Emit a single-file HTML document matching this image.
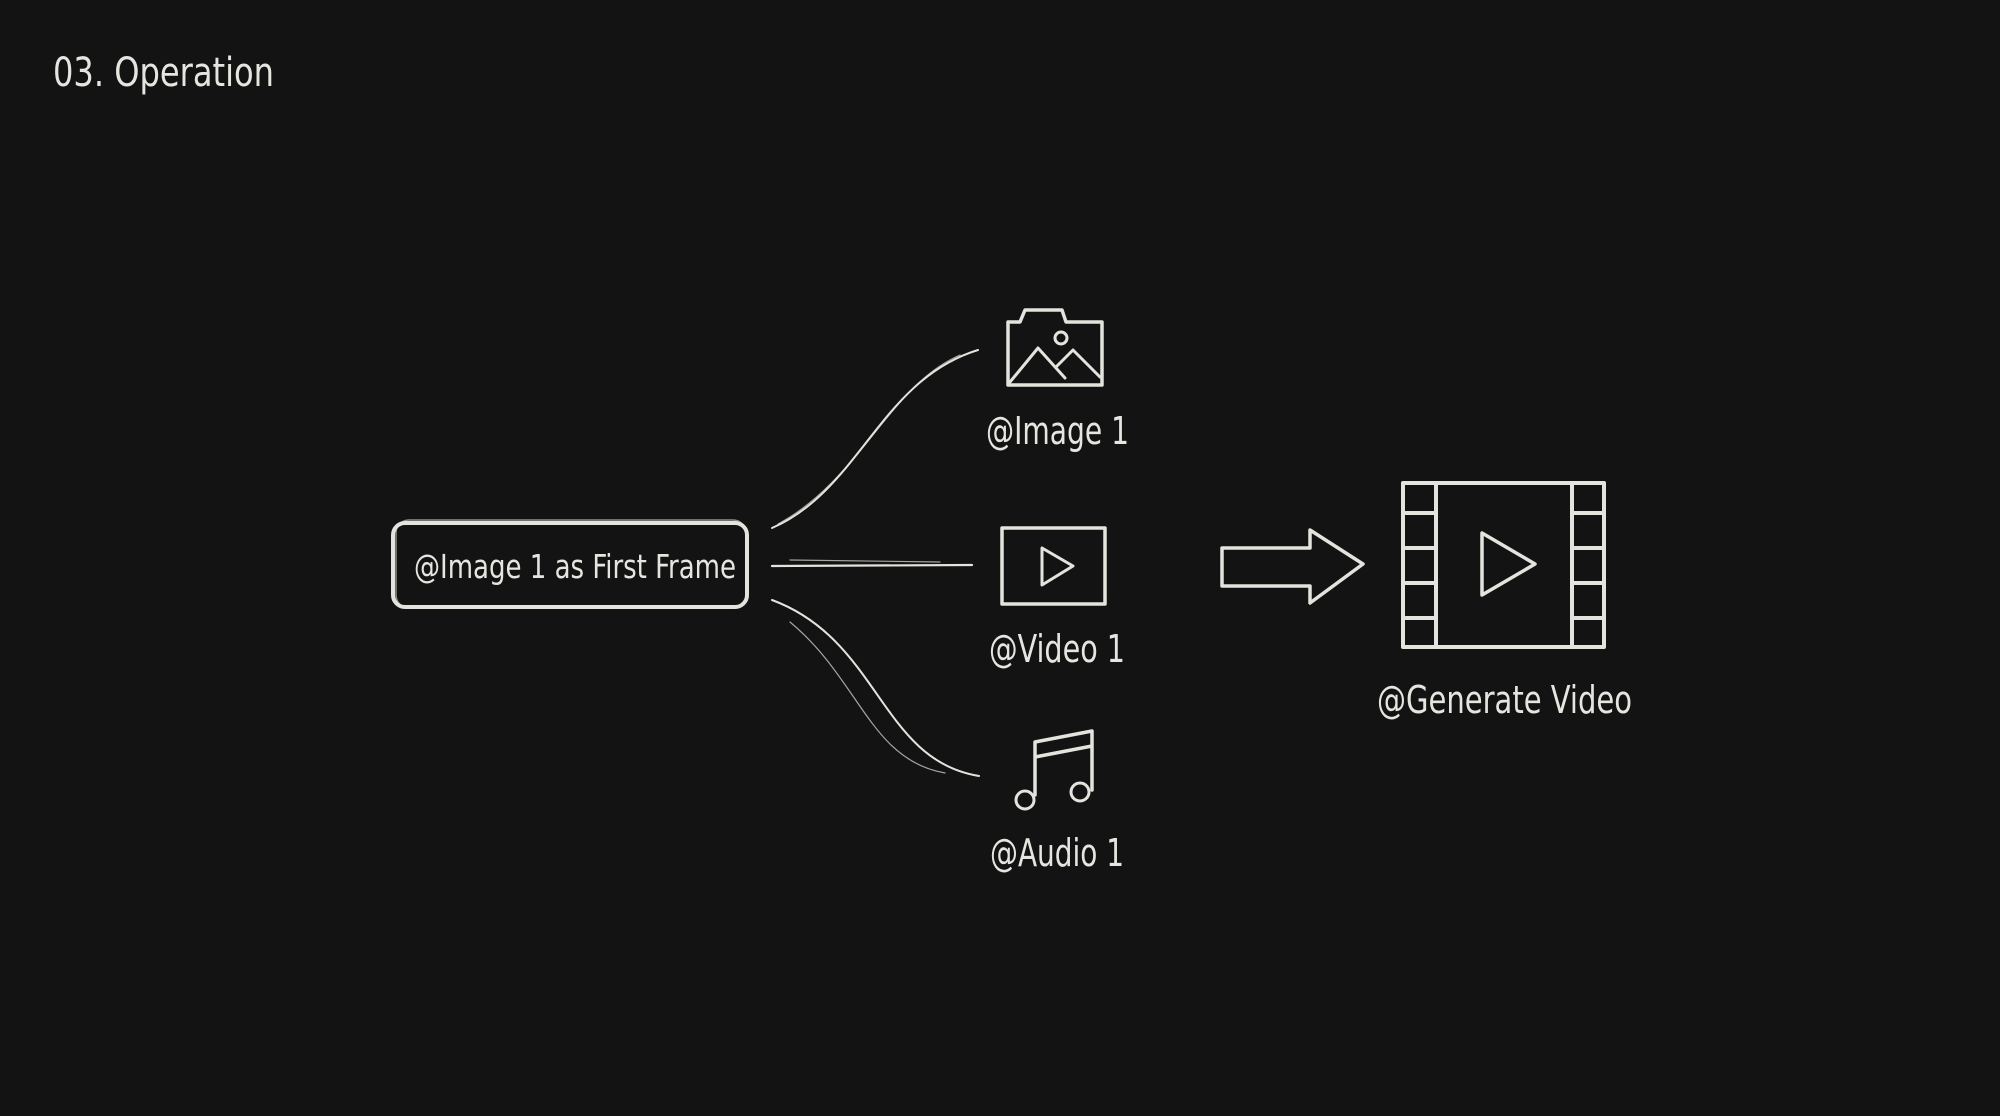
<!DOCTYPE html>
<html><head><meta charset="utf-8"><style>
html,body{margin:0;padding:0;background:#131313;}
svg{display:block}
text{font-family:"Liberation Sans Narrow","DejaVu Sans Condensed","Liberation Sans",sans-serif;fill:#e6e6e0;}
</style></head><body>
<svg width="2000" height="1116" viewBox="0 0 2000 1116" xmlns="http://www.w3.org/2000/svg">
<rect width="2000" height="1116" fill="#131313"/>
<text x="53" y="86" font-size="40" textLength="221" lengthAdjust="spacingAndGlyphs">03. Operation</text>
<g fill="none" stroke="#e4e4de" stroke-linecap="round" stroke-linejoin="round">
<rect x="393" y="523" width="354" height="84" rx="12" stroke-width="4"/>
<rect x="396" y="520" width="350" height="88" rx="13" stroke-width="1.5" opacity="0.6"/>
<path d="M772 528 C860 490 880 380 978 350" stroke-width="2"/>
<path d="M778 524 C860 480 890 385 960 355" stroke-width="1.2" opacity="0.7"/>
<path d="M772 566 L972 565" stroke-width="2.2"/>
<path d="M790 560 L940 562" stroke-width="1.2" opacity="0.7"/>
<path d="M772 600 C880 640 880 760 979 776" stroke-width="2"/>
<path d="M790 622 C860 680 870 760 945 773" stroke-width="1.2" opacity="0.7"/>
<path d="M1008 322 L1020 322 L1025 310 L1062 310 L1066 322 L1102 322 L1102 385 L1008 385 Z" stroke-width="3.5"/>
<circle cx="1061" cy="338" r="6" stroke-width="3"/>
<path d="M1010 382 L1038 348 L1065 378 M1056 367 L1073 350 L1100 377" stroke-width="3"/>
<rect x="1002" y="528" width="103" height="76" stroke-width="3.5"/>
<path d="M1042 548 L1042 585 L1073 566 Z" stroke-width="3"/>
<path d="M1035 795 L1035 742 L1092 731 L1092 790 M1035 757 L1092 746" stroke-width="3.5"/>
<circle cx="1025" cy="800" r="9" stroke-width="3"/>
<circle cx="1080" cy="792" r="9" stroke-width="3"/>
<path d="M1222 548 L1310 548 L1310 530 L1363 564 L1310 603 L1310 586 L1222 586 Z" stroke-width="3.5"/>
<rect x="1403" y="483" width="201" height="164" stroke-width="4"/>
<path d="M1436 483 L1436 647 M1572 483 L1572 647" stroke-width="4"/>
<path d="M1406 513 L1436 513 M1406 548 L1436 548 M1406 583 L1436 583 M1406 618 L1436 618 M1572 513 L1602 513 M1572 548 L1602 548 M1572 583 L1602 583 M1572 618 L1602 618" stroke-width="4"/>
<path d="M1482 533 L1482 595 L1535 564 Z" stroke-width="3.5"/>
</g>
<text x="414" y="578" font-size="33" textLength="322" lengthAdjust="spacingAndGlyphs">@Image 1 as First Frame</text>
<text x="986" y="444" font-size="38" textLength="143" lengthAdjust="spacingAndGlyphs">@Image 1</text>
<text x="989" y="662" font-size="38" textLength="136" lengthAdjust="spacingAndGlyphs">@Video 1</text>
<text x="990" y="866" font-size="38" textLength="134" lengthAdjust="spacingAndGlyphs">@Audio 1</text>
<text x="1377" y="713" font-size="38" textLength="255" lengthAdjust="spacingAndGlyphs">@Generate Video</text>
</svg>
</body></html>
